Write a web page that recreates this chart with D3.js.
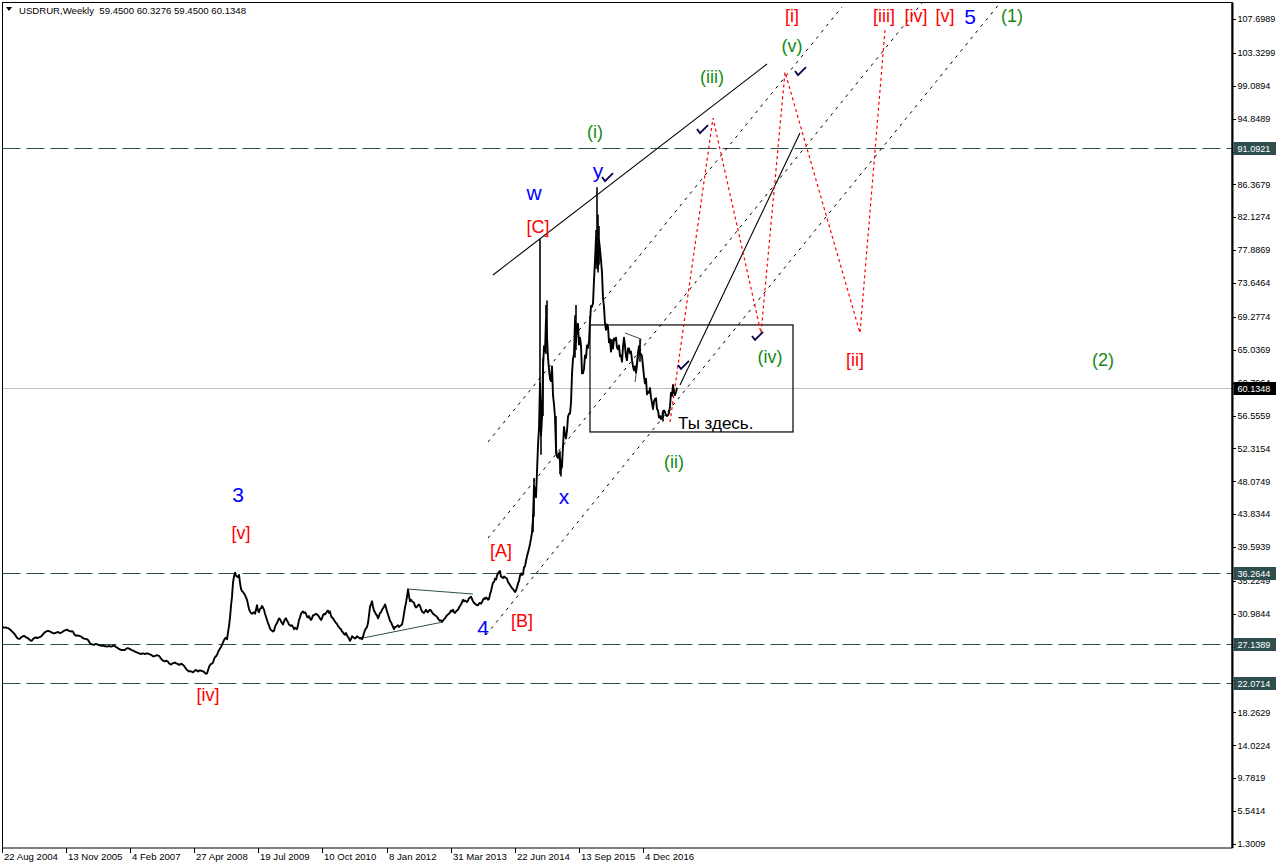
<!DOCTYPE html>
<html><head><meta charset="utf-8">
<script src="https://cdn.jsdelivr.net/npm/d3@7"></script>
<style>html,body{margin:0;padding:0;background:#fff;} svg{display:block;}</style>
</head><body>
<svg id="chart" width="1276" height="868"></svg>
<script>
// ---------------- DATA ----------------
const symbolTitle = "USDRUR,Weekly  59.4500 60.3276 59.4500 60.1348";
const firstWeek = "2004-08-22";   // weekly closes, one value per week from this date

const closes_2004_05 = [29.28,29.25,29.22,29.20,29.22,29.18,29.15,29.05,28.95,28.85,28.70,28.60,28.45,28.30,28.10,27.90,27.80,27.75,27.80,27.95,28.00,28.10,28.15,28.05,27.95,27.90,27.85,27.70,27.60,27.50,27.55,27.75,27.85,27.90,27.95,27.85,27.90,27.95,28.00,28.05,28.20,28.35,28.50,28.60,28.70,28.75,28.80,28.75,28.70,28.65,28.55,28.50];
const closes_2005_06 = [28.45,28.50,28.55,28.60,28.65,28.55,28.50,28.55,28.60,28.70,28.80,28.85,28.90,28.95,28.85,28.80,28.75,28.70,28.75,28.70,28.40,28.25,28.15,28.20,28.20,28.15,28.10,28.05,27.95,27.85,27.80,27.75,27.75,27.70,27.60,27.40,27.20,27.10,27.05,27.00,27.00,27.05,27.10,27.05,27.00,26.95,26.90,26.90,26.85,26.90,26.85,26.80];
const closes_2006_07 = [26.80,26.75,26.80,26.85,26.80,26.75,26.80,26.85,26.90,26.80,26.70,26.65,26.55,26.45,26.40,26.35,26.30,26.35,26.30,26.35,26.45,26.55,26.55,26.50,26.45,26.35,26.30,26.25,26.20,26.10,26.05,26.00,25.95,25.90,25.85,25.80,25.85,25.90,25.85,25.80,25.85,25.90,25.85,25.80,25.75,25.70,25.60,25.50,25.50,25.55,25.60,25.65];
const closes_2007_08 = [25.60,25.55,25.40,25.20,25.05,24.95,24.90,24.85,24.95,24.90,24.80,24.60,24.50,24.45,24.55,24.60,24.65,24.70,24.60,24.55,24.50,24.40,24.45,24.55,24.50,24.40,24.30,24.10,23.90,23.75,23.65,23.55,23.60,23.55,23.50,23.45,23.55,23.70,23.75,23.65,23.55,23.65,23.70,23.65,23.60,23.55,23.50,23.35,23.25,23.30,23.70,24.10];
const closes_2008_09 = [24.40,24.50,24.55,24.70,25.10,25.40,25.50,25.70,26.00,26.30,26.50,26.70,27.00,27.30,27.60,27.80,27.90,27.70,28.60,29.40,30.50,32.00,33.20,35.00,35.80,36.30,35.90,35.80,35.70,36.00,35.00,34.20,33.90,33.80,33.60,33.40,33.10,32.80,32.20,31.60,31.30,31.10,31.00,31.10,31.20,31.00,31.50,32.10,31.40,31.20,31.60,31.70];
const closes_2009_10 = [32.00,31.80,31.50,31.00,30.60,30.20,29.80,29.50,29.10,28.90,28.80,28.70,28.80,29.30,29.60,29.80,30.10,30.40,30.30,30.00,29.80,29.60,30.00,30.30,30.40,30.10,29.90,29.60,29.50,29.40,29.50,29.30,29.00,29.20,29.10,29.00,29.50,30.20,30.50,31.00,31.20,31.30,31.10,31.20,31.00,30.60,30.50,30.70,30.40,30.20,30.40,30.80];
const closes_2010_11 = [30.80,30.90,31.00,30.90,30.80,30.60,30.40,30.20,30.40,30.80,31.00,30.90,31.10,31.30,31.40,31.10,31.30,30.70,30.50,30.40,30.20,30.00,29.80,29.70,29.40,29.30,29.10,29.00,28.70,28.60,28.40,28.30,28.50,28.20,28.00,27.80,27.50,27.70,28.10,28.00,27.90,27.80,27.90,28.10,28.00,27.90,27.80,27.90,27.70,28.00,28.50,28.90];
const closes_2011_12 = [29.10,29.30,29.80,30.80,31.90,32.20,32.60,31.90,31.40,31.20,30.90,30.80,30.40,30.70,31.10,31.20,31.50,31.70,31.90,32.20,31.80,31.30,30.90,30.50,30.10,29.90,29.60,29.30,29.00,29.30,29.30,29.40,29.50,29.30,29.40,29.50,29.60,30.20,31.00,31.80,32.40,33.20,34.10,33.30,32.60,32.80,32.60,32.50,32.40,32.00,31.80,31.90];
const closes_2012_13 = [32.10,32.20,32.00,31.60,31.30,31.20,31.10,31.30,31.50,31.30,31.20,31.40,31.50,31.40,31.20,31.00,30.90,30.80,30.70,30.60,30.40,30.20,30.10,30.15,30.00,30.10,30.30,30.40,30.60,30.80,30.90,31.00,31.20,31.40,31.30,31.50,31.20,31.10,31.30,31.40,31.50,31.80,32.00,32.20,32.50,32.80,32.60,32.70,32.60,32.50,32.70,33.00];
const closes_2013_14 = [33.10,33.20,32.90,32.60,32.40,32.30,32.20,32.10,32.10,32.30,32.40,32.30,32.50,32.80,33.00,32.90,33.10,33.00,32.80,32.90,33.50,33.90,34.50,35.00,35.10,35.50,35.40,35.90,36.20,36.40,36.50,35.80,35.70,35.60,35.80,35.70,35.60,35.50,35.10,34.90,34.70,34.50,34.30,34.20,34.00,33.80,34.00,34.40,34.90,35.20,35.90,36.20];
const closes_2014_15 = [36.00,36.10,37.00,37.10,37.80,38.40,38.90,39.40,40.00,40.70,41.50,43.20,47.50,46.90,46.00,49.30,52.70,54.90,60.70,54.00,56.20,62.60,65.50,64.80,69.00,66.70,64.00,62.50,61.30,61.00,62.90,59.20,58.00,56.40,52.30,51.30,51.10,51.70,50.60,49.60,50.00,52.60,55.10,54.10,53.60,54.60,56.40,56.80,56.80,58.20,61.90,63.90];
const closes_2015_16 = [64.50,68.80,66.00,68.30,68.40,65.70,66.60,65.60,62.00,62.00,62.60,64.30,64.00,65.60,65.30,66.10,68.70,70.70,70.60,71.00,74.00,76.50,79.50,77.90,75.50,79.20,78.00,76.60,75.00,71.70,70.60,68.40,67.60,68.30,68.00,66.00,66.40,64.80,66.30,65.20,66.50,66.30,66.60,65.30,65.10,65.60,64.20,64.30,63.50,65.40,66.60,65.50];
const closes_2016_17 = [64.20,63.70,65.20,65.20,64.60,64.80,63.70,62.90,62.40,62.90,62.10,63.40,64.70,65.50,64.40,64.50,64.20,62.90,61.60,60.70,61.30,59.30,59.60,59.50,60.10,58.90,58.20,57.40,58.40,58.70,58.80,57.40,57.20,56.30,56.50,56.10,56.30,57.10,57.20,57.00,56.60,56.50,56.60,56.90,57.70,59.50,59.10,60.50,59.50,59.20,59.60,60.13];

// extreme weekly ranges (week index, low, high) for the wild bars
const wickWeeks = [531, 532, 538, 539, 541, 544, 545, 554, 558, 559, 573, 574, 594, 595, 596, 597, 638, 661];
const wickLows  = [41.5, 43.5, 54.5, 51.5, 56.5, 64.5, 65.5, 51.5, 49.0, 48.7, 64.0, 65.0, 75.5, 76.0, 75.0, 76.0, 63.5, 55.8];
const wickHighs = [43.8, 48.5, 79.3, 58.5, 64.0, 70.8, 71.4, 56.5, 52.0, 51.0, 69.5, 70.8, 80.5, 86.0, 82.5, 81.0, 66.4, 57.0];

const priceTicks = ["1.3009","5.5414","9.7819","14.0224","18.2629","22.5034","26.7439","30.9844","35.2249","39.5939","43.8344","48.0749","52.3154","56.5559","60.7964","65.0369","69.2774","73.6464","77.8869","82.1274","86.3679","90.6084","94.8489","99.0894","103.3299","107.6989"];
const dateTicks = ["22 Aug 2004","13 Nov 2005","4 Feb 2007","27 Apr 2008","19 Jul 2009","10 Oct 2010","8 Jan 2012","31 Mar 2013","22 Jun 2014","13 Sep 2015","4 Dec 2016"];

const levelLines = ["91.0921","36.2644","27.1389","22.0714"];
const currentPrice = "60.1348";

// annotations: [week index, price]
const upperLine     = [[491, 74.69], [765, 101.89]];
const channelA      = [[486, 53.15], [840, 109.25]];
const channelB      = [[486, 40.76], [920, 109.76]];
const channelC      = [[484, 28.26], [998, 109.76]];
const impulseLine   = [[678, 60.50], [798, 93.00]];
const triangleTop   = [[405, 34.19], [471, 33.54]];
const triangleBot   = [[361, 27.87], [441, 29.93]];
const smallWedge    = [[623, 67.20], [639, 66.43], [633, 60.88]];
const forecastPath  = [[668, 55.72], [711, 94.93], [759, 67.20], [783, 100.86], [858, 67.20], [883, 106.28]];
const zoneWeeks     = [588, 791];
const zonePrices    = [54.44, 68.24];
const checkMarks    = [[605, 87.19], [700, 93.38], [681, 62.95], [755, 66.69], [798, 100.86]];

const labelText  = ["3","4","5","w","x","y",
                    "[v]","[iv]","[A]","[B]","[C]","[i]","[ii]","[iii]","[iv]","[v]",
                    "(i)","(ii)","(iii)","(iv)","(v)","(1)","(2)"];
const labelWeek  = [236,481,968,532,562,596,
                    239,206,499,520,536,790,853,882,914,943,
                    593,672,710,768,790,1010,1101];
const labelPrice = [46.44,29.29,108.09,85.39,46.18,88.22,
                    41.41,20.52,39.09,30.06,81.00,108.21,63.72,108.09,108.09,108.09,
                    93.25,50.69,100.22,64.11,104.34,108.09,63.72];
const labelDegree= ["P","P","P","P","P","P",
                    "I","I","I","I","I","I","I","I","I","I",
                    "M","M","M","M","M","M","M"];
const noteText = "Ты здесь.";
const notePoint = [676, 55.60];

// ---------------- DRAW ----------------
const closes = [].concat(closes_2004_05, closes_2005_06, closes_2006_07, closes_2007_08, closes_2008_09,
  closes_2009_10, closes_2010_11, closes_2011_12, closes_2012_13, closes_2013_14, closes_2014_15,
  closes_2015_16, closes_2016_17);

const W = 1276, H = 868;
const plotL = 2.5, plotT = 2.5, plotR = 1232, plotB = 848;
const t0 = d3.utcParse("%Y-%m-%d")(firstWeek);
const wk = i => d3.utcDay.offset(t0, 7 * i);
const x = d3.scaleUtc().domain([t0, wk(1228)]).range([2, 1230]);
const y = d3.scaleLinear().domain([1.3009, 107.6989]).range([844, 19]);
const px = d => x(wk(d[0])), py = d => y(d[1]);

const FONT = "'Liberation Sans', Arial, sans-serif";
const AXF = 9.6;   // bottom axis / title
const AYF = 9.1;   // right axis
const svg = d3.select("#chart");
svg.append("rect").attr("width", W).attr("height", H).attr("fill", "#fff");

svg.append("clipPath").attr("id", "plotclip").append("rect")
  .attr("x", plotL).attr("y", plotT).attr("width", plotR - plotL).attr("height", plotB - plotT);
const g = svg.append("g").attr("clip-path", "url(#plotclip)");

// level lines
g.selectAll(".lvl").data(levelLines).join("line")
  .attr("x1", plotL).attr("x2", plotR)
  .attr("y1", d => Math.round(y(+d)) + 0.5).attr("y2", d => Math.round(y(+d)) + 0.5)
  .attr("stroke", "#2F4F4F").attr("stroke-dasharray", "18,6");
// current price line
g.append("line").attr("x1", plotL).attr("x2", plotR)
  .attr("y1", Math.round(y(+currentPrice)) + 0.5).attr("y2", Math.round(y(+currentPrice)) + 0.5)
  .attr("stroke", "#C0C0C0");

const seg = d3.line().x(px).y(py);

// zone box
g.append("rect")
  .attr("x", x(wk(zoneWeeks[0]))).attr("y", y(zonePrices[1]))
  .attr("width", x(wk(zoneWeeks[1])) - x(wk(zoneWeeks[0])))
  .attr("height", y(zonePrices[0]) - y(zonePrices[1]))
  .attr("fill", "none").attr("stroke", "#000").attr("stroke-width", 1.2);

// triangle lines
[triangleTop, triangleBot].forEach(l => g.append("path").attr("d", seg(l))
  .attr("stroke", "#2F4F4F").attr("fill", "none").attr("stroke-width", 1));
g.append("path").attr("d", seg(smallWedge)).attr("stroke", "#2F4F4F").attr("fill", "none");

// channels
[channelA, channelB, channelC].forEach(l => g.append("path").attr("d", seg(l))
  .attr("stroke", "#000").attr("fill", "none").attr("stroke-dasharray", "3,5"));
[upperLine, impulseLine].forEach(l => g.append("path").attr("d", seg(l))
  .attr("stroke", "#000").attr("fill", "none").attr("stroke-width", 1.1));

// forecast
g.append("path").attr("d", seg(forecastPath))
  .attr("stroke", "#FF0000").attr("fill", "none").attr("stroke-dasharray", "3,3").attr("stroke-width", 1.2);

// price
g.append("path")
  .attr("d", d3.line().x((d, i) => x(wk(i))).y(d => y(d))(closes))
  .attr("fill", "none").attr("stroke", "#000").attr("stroke-width", 1.9).attr("stroke-linejoin", "round");
g.selectAll(".wick").data(wickWeeks).join("line")
  .attr("x1", d => x(wk(d))).attr("x2", d => x(wk(d)))
  .attr("y1", (d, j) => y(wickLows[j])).attr("y2", (d, j) => y(wickHighs[j]))
  .attr("stroke", "#000").attr("stroke-width", 1.6);

// check marks
g.selectAll(".chk").data(checkMarks).join("path")
  .attr("transform", d => `translate(${px(d)},${py(d)})`)
  .attr("d", "M-5,-1 L-2,3 L6,-5")
  .attr("fill", "none").attr("stroke", "#00004a").attr("stroke-width", 1.8);

// wave labels
const degColor = {P: "#0000FF", I: "#FF0000", M: "#138a13"};
const degSize = {P: 21, I: 18, M: 18};
g.selectAll(".lab").data(labelText).join("text")
  .attr("x", (d, i) => x(wk(labelWeek[i])))
  .attr("y", (d, i) => y(labelPrice[i]))
  .attr("dy", "0.36em")
  .attr("text-anchor", "middle")
  .attr("font-family", FONT)
  .attr("font-size", (d, i) => degSize[labelDegree[i]])
  .attr("fill", (d, i) => degColor[labelDegree[i]])
  .text(d => d);
g.append("text").attr("x", x(wk(notePoint[0]))).attr("y", y(notePoint[1])).attr("dy", "0.36em")
  .attr("font-family", FONT).attr("font-size", 17).attr("fill", "#000").text(noteText);

// frame
svg.append("rect").attr("x", plotL).attr("y", plotT).attr("width", plotR - plotL).attr("height", plotB - plotT)
  .attr("fill", "none").attr("stroke", "#000");
svg.append("line").attr("x1", plotR + 0.5).attr("x2", plotR + 0.5).attr("y1", plotT).attr("y2", plotB)
  .attr("stroke", "#000").attr("stroke-width", 2);

// right axis
const ax = svg.append("g");
ax.selectAll(".tk").data(priceTicks).join("line")
  .attr("x1", plotR).attr("x2", plotR + 4)
  .attr("y1", d => Math.round(y(+d)) + 0.5).attr("y2", d => Math.round(y(+d)) + 0.5).attr("stroke", "#000");
ax.selectAll(".tl").data(priceTicks).join("text")
  .attr("x", plotR + 5.5).attr("y", d => y(+d)).attr("dy", "0.35em")
  .attr("font-family", FONT).attr("font-size", AYF).attr("fill", "#000").text(d => d);

function priceTag(v, bg) {
  const yy = Math.round(y(+v));
  ax.append("rect").attr("x", plotR + 1.5).attr("y", yy - 6).attr("width", W - plotR).attr("height", 13).attr("fill", bg);
  ax.append("text").attr("x", plotR + 5.5).attr("y", yy + 0.5).attr("dy", "0.35em")
    .attr("font-family", FONT).attr("font-size", AYF).attr("fill", "#fff").text(v);
}
levelLines.forEach(v => priceTag(v, "#2F4F4F"));
priceTag(currentPrice, "#000");

// bottom axis
const parseTick = d3.utcParse("%e %b %Y");
ax.selectAll(".xt").data(dateTicks).join("line")
  .attr("x1", d => Math.round(x(parseTick(d))) + 0.5).attr("x2", d => Math.round(x(parseTick(d))) + 0.5)
  .attr("y1", plotB).attr("y2", plotB + 5).attr("stroke", "#000");
ax.selectAll(".xl").data(dateTicks).join("text")
  .attr("x", d => x(parseTick(d)) + 2).attr("y", plotB + 12)
  .attr("font-family", FONT).attr("font-size", AXF).attr("fill", "#000").text(d => d);

// title
svg.append("path").attr("d", "M6,7 L12,7 L9,11 Z").attr("fill", "#000");
svg.append("text").attr("x", 19).attr("y", 13.5).attr("font-family", FONT).attr("font-size", AXF)
  .attr("fill", "#000").attr("xml:space", "preserve").style("white-space", "pre").text(symbolTitle);
</script>
</body></html>
